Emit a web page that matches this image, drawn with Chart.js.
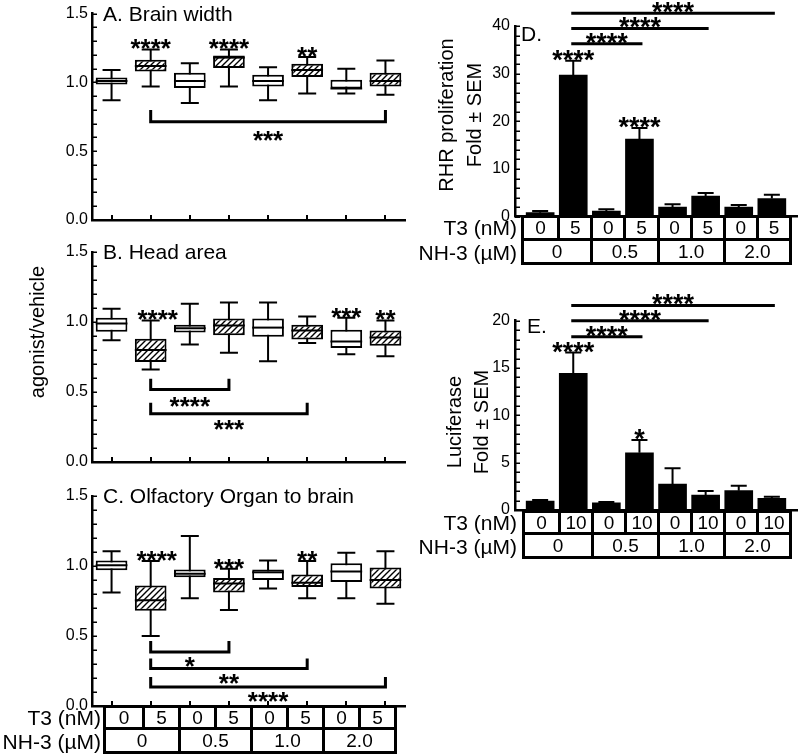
<!DOCTYPE html>
<html><head><meta charset="utf-8">
<script src="https://cdn.jsdelivr.net/npm/chart.js@4.4.1/dist/chart.umd.min.js"></script>
<style>
html,body{margin:0;padding:0;background:#fff;}
body{position:relative;width:800px;height:756px;overflow:hidden;font-family:'Liberation Sans',Arial,Helvetica,sans-serif;color:#000;}
canvas{position:absolute;left:0;top:0;}
.tbl{position:absolute;border:3px solid #000;box-sizing:border-box;background:#fff;}
.cell{position:absolute;box-sizing:border-box;text-align:center;font-size:19px;}
.rlab{position:absolute;text-align:right;font-size:21px;white-space:nowrap;}
</style></head><body>
<canvas id="cA" width="800" height="756"></canvas>
<canvas id="cB" width="800" height="756"></canvas>
<canvas id="cC" width="800" height="756"></canvas>
<canvas id="cD" width="800" height="756"></canvas>
<canvas id="cE" width="800" height="756"></canvas>
<script>
const FONT = "'Liberation Sans', Arial, Helvetica, sans-serif";

// ---------- categories ----------
const groups = ['T3 0 / NH-3 0', 'T3 + / NH-3 0', 'T3 0 / NH-3 0.5', 'T3 + / NH-3 0.5',
                'T3 0 / NH-3 1.0', 'T3 + / NH-3 1.0', 'T3 0 / NH-3 2.0', 'T3 + / NH-3 2.0'];
const t3Treated = [false, true, false, true, false, true, false, true];

// ---------- table labels ----------
const t3Labels5  = ['0', '5', '0', '5', '0', '5', '0', '5'];
const t3Labels10 = ['0', '10', '0', '10', '0', '10', '0', '10'];
const nh3Labels  = ['0', '0.5', '1.0', '2.0'];

// ---------- Panel A: Brain width (box plots) ----------
const brainMin = [0.87, 0.97, 0.85, 0.97, 0.87, 0.92, 0.92, 0.91];
const brainQ1  = [0.985, 1.08, 0.96, 1.105, 0.97, 1.04, 0.955, 0.97];
const brainMed = [1.01, 1.12, 1.01, 1.18, 1.01, 1.09, 0.955, 1.01];
const brainQ3  = [1.035, 1.165, 1.07, 1.195, 1.055, 1.135, 1.02, 1.07];
const brainMax = [1.09, 1.24, 1.14, 1.24, 1.11, 1.185, 1.10, 1.16];
const brainStars = ['', '****', '', '****', '', '**', '', ''];
const brainBrackets = [{from: 1, to: 7, y: 0.714, end: 0.80, label: '***', labelY: 0.627}];

// ---------- Panel B: Head area ----------
const headMin = [0.87, 0.66, 0.84, 0.78, 0.72, 0.85, 0.77, 0.755];
const headQ1  = [0.93, 0.715, 0.925, 0.905, 0.895, 0.875, 0.815, 0.83];
const headMed = [0.99, 0.80, 0.955, 0.975, 0.96, 0.94, 0.86, 0.89];
const headQ3  = [1.03, 0.88, 0.98, 1.025, 1.025, 0.98, 0.945, 0.94];
const headMax = [1.095, 1.01, 1.13, 1.14, 1.14, 1.04, 1.03, 1.01];
const headStars = ['', '****', '', '', '', '', '***', '**'];
const headBrackets = [
  {from: 1, to: 3, y: 0.517, end: 0.595, label: '****', labelY: 0.445},
  {from: 1, to: 5, y: 0.345, end: 0.424, label: '***', labelY: 0.28}
];

// ---------- Panel C: Olfactory organ to brain ----------
const olfMin = [0.81, 0.50, 0.77, 0.685, 0.84, 0.77, 0.77, 0.73];
const olfQ1  = [0.97, 0.68, 0.92, 0.81, 0.90, 0.85, 0.885, 0.84];
const olfMed = [1.005, 0.755, 0.945, 0.875, 0.955, 0.88, 0.96, 0.90];
const olfQ3  = [1.04, 0.86, 0.975, 0.915, 0.975, 0.94, 1.02, 0.99];
const olfMax = [1.105, 1.035, 1.215, 0.98, 1.04, 1.035, 1.095, 1.105];
const olfStars = ['', '****', '', '***', '', '**', '', ''];
const olfBrackets = [
  {from: 1, to: 3, y: 0.386, end: 0.464, label: '*', labelY: 0.326},
  {from: 1, to: 5, y: 0.267, end: 0.339, label: '**', labelY: 0.207},
  {from: 1, to: 7, y: 0.136, end: 0.207, label: '****', labelY: 0.076}
];

// ---------- Panel D: RHR proliferation ----------
const rhrMean = [0.85, 29.7, 1.2, 16.3, 2.0, 4.3, 2.0, 3.8];
const rhrSem  = [0.35, 3.0, 0.35, 2.3, 0.6, 0.65, 0.45, 0.8];
const rhrStars = ['', '****', '', '****', '', '', '', ''];
const rhrComps = [
  {from: 1, to: 3, y: 36.3, label: '****'},
  {from: 1, to: 5, y: 39.5, label: '****'},
  {from: 1, to: 7, y: 42.7, label: '****'}
];

// ---------- Panel E: Luciferase ----------
const lucMean = [0.95, 14.45, 0.77, 6.05, 2.75, 1.58, 2.04, 1.23];
const lucSem  = [0.1, 2.2, 0.08, 1.35, 1.65, 0.42, 0.53, 0.17];
const lucStars = ['', '****', '', '*', '', '', '', ''];
const lucComps = [
  {from: 1, to: 3, y: 18.3, label: '****'},
  {from: 1, to: 5, y: 20.0, label: '****'},
  {from: 1, to: 7, y: 21.6, label: '****'}
];

// ---------- helpers ----------
function makeHatch() {
  const s = 6;
  const c = document.createElement('canvas');
  c.width = s; c.height = s;
  const g = c.getContext('2d');
  g.fillStyle = '#fff'; g.fillRect(0, 0, s, s);
  g.strokeStyle = '#000'; g.lineWidth = 1.4;
  g.beginPath();
  g.moveTo(0, s); g.lineTo(s, 0);
  g.moveTo(-s / 2, s / 2); g.lineTo(s / 2, -s / 2);
  g.moveTo(s / 2, s * 1.5); g.lineTo(s * 1.5, s / 2);
  g.stroke();
  return g.createPattern(c, 'repeat');
}
const HATCH = makeHatch();

function drawStars(ctx, text, x, yc, size) {
  ctx.save();
  ctx.fillStyle = '#000';
  ctx.font = 'bold ' + size + 'px ' + FONT;
  ctx.textAlign = 'center';
  ctx.textBaseline = 'alphabetic';
  ctx.fillText(text, x, yc + 0.57 * size);
  ctx.restore();
}
function vText(ctx, text, x, y, size) {
  ctx.save();
  ctx.translate(x, y);
  ctx.rotate(-Math.PI / 2);
  ctx.fillStyle = '#000';
  ctx.font = size + 'px ' + FONT;
  ctx.textAlign = 'center';
  ctx.textBaseline = 'middle';
  ctx.fillText(text, 0, 0);
  ctx.restore();
}
function innerTicks(chart, withX) {
  const {ctx, chartArea: a, scales: {x, y}} = chart;
  ctx.save();
  ctx.strokeStyle = '#000';
  ctx.lineWidth = 1.5;
  y.ticks.forEach(t => {
    const py = Math.round(y.getPixelForValue(t.value)) + 0.25;
    ctx.beginPath(); ctx.moveTo(a.left, py); ctx.lineTo(a.left + 5, py); ctx.stroke();
  });
  if (withX) {
    ctx.lineWidth = 2;
    groups.forEach((g, i) => {
      const px = Math.round(x.getPixelForValue(i));
      ctx.beginPath(); ctx.moveTo(px, a.bottom); ctx.lineTo(px, a.bottom - 5); ctx.stroke();
    });
  }
  ctx.restore();
}

function boxPanel(id, area, mins, q1s, meds, q3s, maxs, stars, brackets, title, starShift, extra) {
  const Wy = 40;
  return new Chart(document.getElementById(id), {
    type: 'bar',
    data: {
      labels: groups,
      datasets: [{
        data: q1s.map((v, i) => [v, q3s[i]]),
        backgroundColor: t3Treated.map(t => t ? HATCH : '#fff'),
        borderColor: '#000', borderWidth: 2, borderSkipped: false,
        barPercentage: 0.81, categoryPercentage: 1
      }]
    },
    options: {
      responsive: false, animation: false, events: [],
      plugins: {legend: {display: false}, tooltip: {enabled: false}, title: {display: false}},
      layout: {padding: {left: area.l - Wy, top: area.t, right: 800 - area.r, bottom: 756 - area.b}},
      scales: {
        x: {
          type: 'category', offset: true,
          grid: {display: false, drawTicks: false},
          ticks: {display: false},
          border: {display: true, color: '#000', width: 2.5},
          afterFit: s => { s.height = 0; }
        },
        y: {
          min: 0, max: 1.5,
          grid: {display: false, drawTicks: false},
          border: {display: true, color: '#000', width: 2.5},
          ticks: {
            stepSize: 0.1, maxTicksLimit: 100, autoSkip: false, padding: 4, color: '#000',
            font: {family: FONT, size: 16},
            callback: v => { const r = Math.round(v * 10); return r % 5 === 0 ? (r / 10).toFixed(1) : ''; }
          },
          afterFit: s => { s.width = Wy; }
        }
      }
    },
    plugins: [{
      id: 'boxparts',
      beforeDatasetsDraw(chart) {
        const {ctx, scales: {x, y}} = chart;
        ctx.save();
        ctx.strokeStyle = '#000'; ctx.lineWidth = 2;
        mins.forEach((mn, i) => {
          const px = x.getPixelForValue(i);
          const yMin = y.getPixelForValue(mn), yMax = y.getPixelForValue(maxs[i]);
          ctx.beginPath();
          ctx.moveTo(px, yMax); ctx.lineTo(px, yMin);
          ctx.moveTo(px - 9, yMax); ctx.lineTo(px + 9, yMax);
          ctx.moveTo(px - 9, yMin); ctx.lineTo(px + 9, yMin);
          ctx.stroke();
        });
        ctx.restore();
      },
      afterDatasetsDraw(chart) {
        const {ctx, chartArea: a, scales: {x, y}} = chart;
        const meta = chart.getDatasetMeta(0);
        ctx.save();
        ctx.strokeStyle = '#000'; ctx.lineWidth = 2;
        meds.forEach((m, i) => {
          const bar = meta.data[i];
          const half = bar.width / 2;
          const py = y.getPixelForValue(m);
          ctx.beginPath(); ctx.moveTo(bar.x - half, py); ctx.lineTo(bar.x + half, py); ctx.stroke();
        });
        ctx.restore();
        innerTicks(chart, true);
        stars.forEach((s, i) => {
          if (!s) return;
          drawStars(ctx, s, x.getPixelForValue(i) + (i === 1 ? starShift : 0), y.getPixelForValue(maxs[i]) - 7, 26);
        });
        ctx.save();
        ctx.strokeStyle = '#000'; ctx.lineWidth = 3; ctx.lineJoin = 'miter';
        brackets.forEach(b => {
          const x1 = x.getPixelForValue(b.from), x2 = x.getPixelForValue(b.to);
          const yl = y.getPixelForValue(b.y), ye = y.getPixelForValue(b.end);
          ctx.beginPath();
          ctx.moveTo(x1, ye); ctx.lineTo(x1, yl); ctx.lineTo(x2, yl); ctx.lineTo(x2, ye);
          ctx.stroke();
          drawStars(ctx, b.label, (x1 + x2) / 2, y.getPixelForValue(b.labelY), 26);
        });
        ctx.restore();
        ctx.save();
        ctx.fillStyle = '#000';
        ctx.font = '21px ' + FONT;
        ctx.textAlign = 'left'; ctx.textBaseline = 'middle';
        ctx.fillText(title, a.left + 11, a.top + 1.5);
        ctx.restore();
        if (extra) extra(ctx);
      }
    }]
  });
}

function barPanel(id, area, means, sems, ymax, step, labelStep, stars, comps, title, titleDx, titleDy, axisLines, axisXs, axisY) {
  const Wy = 45;
  return new Chart(document.getElementById(id), {
    type: 'bar',
    data: {
      datasets: [{
        data: means.map((v, i) => ({x: i, y: v})),
        backgroundColor: '#000', borderWidth: 0, barThickness: 28
      }]
    },
    options: {
      responsive: false, animation: false, events: [],
      plugins: {legend: {display: false}, tooltip: {enabled: false}},
      layout: {padding: {left: area.l - Wy, top: area.t, right: 800 - area.r, bottom: 756 - area.b}},
      scales: {
        x: {
          type: 'linear', min: -0.76, max: 7.76, offset: false, bounds: 'data',
          grid: {display: false, drawTicks: false},
          ticks: {display: false, stepSize: 1, includeBounds: false},
          border: {display: true, color: '#000', width: 2.5},
          afterFit: s => { s.height = 0; }
        },
        y: {
          min: 0, max: ymax,
          grid: {display: false, drawTicks: false},
          border: {display: true, color: '#000', width: 2.5},
          ticks: {
            stepSize: step, maxTicksLimit: 100, autoSkip: false, padding: 5, color: '#000',
            font: {family: FONT, size: 16},
            callback: v => (Math.round(v) % labelStep === 0 ? String(Math.round(v)) : '')
          },
          afterFit: s => { s.width = Wy; }
        }
      }
    },
    plugins: [{
      id: 'bars',
      afterDatasetsDraw(chart) {
        const {ctx, chartArea: a, scales: {x, y}} = chart;
        ctx.save();
        ctx.strokeStyle = '#000'; ctx.lineWidth = 2;
        means.forEach((m, i) => {
          const px = x.getPixelForValue(i);
          const y0 = y.getPixelForValue(m), y1 = y.getPixelForValue(m + sems[i]);
          ctx.beginPath();
          ctx.moveTo(px, y0); ctx.lineTo(px, y1);
          ctx.moveTo(px - 8, y1); ctx.lineTo(px + 8, y1);
          ctx.stroke();
        });
        ctx.restore();
        innerTicks(chart, false);
        stars.forEach((s, i) => {
          if (!s) return;
          drawStars(ctx, s, x.getPixelForValue(i), y.getPixelForValue(means[i] + sems[i]) - 7, 27);
        });
        ctx.save();
        ctx.strokeStyle = '#000'; ctx.lineWidth = 3;
        comps.forEach(c => {
          const x1 = x.getPixelForValue(c.from) - 2, x2 = x.getPixelForValue(c.to) + 3;
          const py = y.getPixelForValue(c.y);
          ctx.beginPath(); ctx.moveTo(x1, py); ctx.lineTo(x2, py); ctx.stroke();
          drawStars(ctx, c.label, (x1 + x2) / 2, py - 7.5, 27);
        });
        ctx.restore();
        ctx.save();
        ctx.fillStyle = '#000';
        ctx.font = '21px ' + FONT;
        ctx.textAlign = 'left'; ctx.textBaseline = 'middle';
        ctx.fillText(title, a.left + titleDx, a.top + titleDy);
        ctx.restore();
        axisLines.forEach((t, k) => vText(ctx, t, axisXs[k], axisY, 20));
      }
    }]
  });
}

// ---------- build charts ----------
boxPanel('cA', {l: 92, r: 405, t: 12, b: 220}, brainMin, brainQ1, brainMed, brainQ3, brainMax,
  brainStars, brainBrackets, 'A. Brain width', 0);
boxPanel('cB', {l: 92, r: 405, t: 252, b: 462}, headMin, headQ1, headMed, headQ3, headMax,
  headStars, headBrackets, 'B. Head area', 7, ctx => vText(ctx, 'agonist/vehicle', 38, 332, 20));
boxPanel('cC', {l: 92, r: 405, t: 496, b: 706}, olfMin, olfQ1, olfMed, olfQ3, olfMax,
  olfStars, olfBrackets, 'C. Olfactory Organ to brain', 6);
barPanel('cD', {l: 515, r: 797, t: 26, b: 216.7}, rhrMean, rhrSem, 40, 2, 10, rhrStars, rhrComps,
  'D.', 6, 9, ['RHR proliferation', 'Fold \u00b1 SEM'], [447, 475], 115);
barPanel('cE', {l: 515, r: 797, t: 320.7, b: 510}, lucMean, lucSem, 20, 1, 5, lucStars, lucComps,
  'E.', 12, 7, ['Luciferase', 'Fold \u00b1 SEM'], [455, 482], 422);

// ---------- treatment tables ----------
function buildTable(o) {
  const tbl = document.createElement('div');
  tbl.className = 'tbl';
  Object.assign(tbl.style, {left: o.left + 'px', top: o.top + 'px', width: o.width + 'px', height: (o.h1 + o.h2) + 'px'});
  const inner = o.width - 6;
  const r1 = o.h1 - 3;
  const r2 = o.h2 - 3;
  const cw = inner / o.t3.length;
  o.t3.forEach((t, i) => {
    const c = document.createElement('div');
    c.className = 'cell'; c.textContent = t;
    Object.assign(c.style, {left: (i * cw) + 'px', top: '0px', width: cw + 'px', height: r1 + 'px',
      lineHeight: (r1 - 3) + 'px', borderBottom: '3px solid #000', borderLeft: i ? '3px solid #000' : 'none'});
    tbl.appendChild(c);
  });
  const gw = inner / o.nh3.length;
  o.nh3.forEach((t, i) => {
    const c = document.createElement('div');
    c.className = 'cell'; c.textContent = t;
    Object.assign(c.style, {left: (i * gw) + 'px', top: r1 + 'px', width: gw + 'px', height: r2 + 'px',
      lineHeight: r2 + 'px', borderLeft: i ? '3px solid #000' : 'none'});
    tbl.appendChild(c);
  });
  document.body.appendChild(tbl);
  const rows = [['T3 (nM)', o.top, o.h1], ['NH-3 (\u00b5M)', o.top + o.h1, o.h2]];
  rows.forEach(([txt, top, h]) => {
    const d = document.createElement('div');
    d.className = 'rlab'; d.textContent = txt;
    Object.assign(d.style, {right: (800 - o.labelRight) + 'px', top: top + 'px', height: h + 'px', lineHeight: h + 'px'});
    document.body.appendChild(d);
  });
}
buildTable({left: 103, top: 705, width: 294, h1: 25, h2: 24, t3: t3Labels5, nh3: nh3Labels, labelRight: 101});
buildTable({left: 521, top: 215, width: 271, h1: 26, h2: 24, t3: t3Labels5, nh3: nh3Labels, labelRight: 517});
buildTable({left: 522, top: 510, width: 270, h1: 25, h2: 24, t3: t3Labels10, nh3: nh3Labels, labelRight: 517});
</script>
</body></html>
